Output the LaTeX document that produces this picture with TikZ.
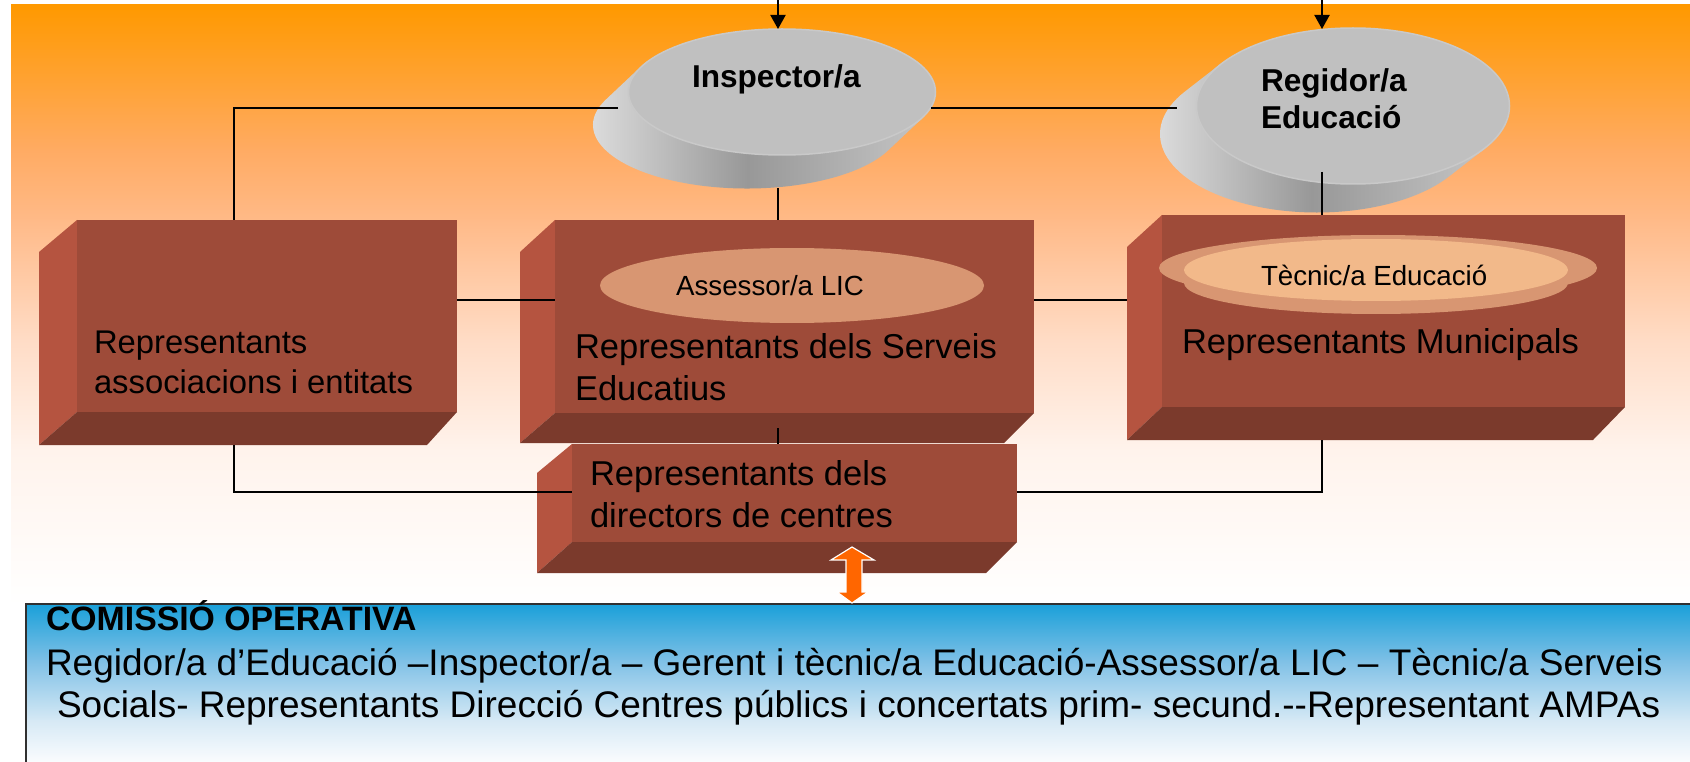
\documentclass[tikz,border=0pt]{standalone}
\usepackage{fontspec}
\setmainfont{Liberation Sans}
\usetikzlibrary{arrows.meta,calc,shapes.geometric}
\definecolor{or0}{HTML}{FF9900}
\definecolor{or1}{HTML}{FFAB63}
\definecolor{or2}{HTML}{FFBA88}
\definecolor{or3}{HTML}{FFDCC6}
\definecolor{or4}{HTML}{FFF3EC}
\definecolor{bl0}{HTML}{1AA0D9}
\definecolor{bl1}{HTML}{7EC0E6}
\definecolor{bl2}{HTML}{D6E9F5}
\definecolor{bl3}{HTML}{FAFCFE}
\definecolor{brickfront}{HTML}{9E4B39}
\definecolor{brickleft}{HTML}{B55440}
\definecolor{brickbottom}{HTML}{7B3A2C}
\definecolor{tanD}{HTML}{D89672}
\definecolor{tanL}{HTML}{F2B98A}
\definecolor{disctop}{HTML}{C0C0C0}
\definecolor{discrim}{HTML}{C9C9C9}
\definecolor{discL}{HTML}{E4E4E4}
\definecolor{discM}{HTML}{989898}
\definecolor{discR}{HTML}{C4C4C4}
\definecolor{arrowor}{HTML}{FF6600}
\definecolor{boxline}{HTML}{303030}
\newcommand\fsz[1]{\fontsize{#1}{#1}\selectfont}
\newcommand\mybrick[9]{%
  \fill[brickleft] (#2,-#6) -- (#3,-#5) -- (#3,-#7) -- (#2,-#8) -- cycle;
  \fill[brickbottom] (#2,-#8) -- (#3,-#7) -- (#4,-#7) -- (#9,-#8) -- cycle;
  \node[brickface, minimum width={#4-#3}, minimum height={#7-#5}, anchor=north west] (#1) at (#3,-#5) {};
}
\begin{document}
\begin{tikzpicture}[x=1pt,y=1pt,
  conn/.style={line width=2pt, black},
  arr/.style={conn, -{Triangle[width=15pt,length=14pt]}},
  txt/.style={inner sep=0pt, outer sep=0pt, anchor=base west, text=black},
  brickface/.style={fill=brickfront, inner sep=0pt, outer sep=0pt, draw=none},
  flatell/.style={ellipse, inner sep=0pt, outer sep=0pt, draw=none}]
\useasboundingbox (0,0) rectangle (1690,-762);
\fill[white] (0,0) rectangle (1690,-762);
% background gradient
\shade[top color=or0, bottom color=or1] (11,-5) rectangle (1690,-151);
\shade[top color=or1, bottom color=or2] (11,-150) rectangle (1690,-221);
\shade[top color=or2, bottom color=or3] (11,-220) rectangle (1690,-341);
\shade[top color=or3, bottom color=or4] (11,-340) rectangle (1690,-451);
\shade[top color=or4, bottom color=white] (11,-450) rectangle (1690,-606);

% ---- Inspector disc
\coordinate (inspC) at (782,-92);
\shade[left color=discL, right color=discR, middle color=discM]
  ($(inspC)+(-23.6:154 and 63.5)$) -- ++(-35,-33)
  arc[start angle=-23.6, end angle=-203.6, x radius=154, y radius=63.5]
  -- ++(35,33) -- cycle;
\node[flatell, fill=disctop, draw=discrim, line width=1.5pt,
  minimum width=307, minimum height=126] (insp) at (inspC) {};
\node[txt, font=\bfseries\fsz{31.6}] (insptxt) at (692,-88) {Inspector/a};

% ---- Regidor disc
\coordinate (regC) at (1353,-106);
\shade[left color=discL, right color=discR, middle color=discM]
  ($(regC)+(-32.7:157 and 78.5)$) -- ++(-36,-28)
  arc[start angle=-32.7, end angle=-212.7, x radius=157, y radius=78.5]
  -- ++(36,28) -- cycle;
\node[flatell, fill=disctop, draw=discrim, line width=1.5pt,
  minimum width=313, minimum height=156] (reg) at (regC) {};
\node[txt, font=\bfseries\fsz{31.6}] (regtxt1) at (1261,-92) {Regidor/a};
\node[txt, font=\bfseries\fsz{31.6}] (regtxt2) at (1261,-129) {Educació};

% ---- bricks
\mybrick{leftblk}{39}{77}{457}{220}{252}{412}{445}{427}
\mybrick{cenblk}{520}{555}{1034}{220}{252}{413}{443}{1004}
\mybrick{munblk}{1127}{1162}{1625}{215}{247}{407}{440}{1593}
\mybrick{dirblk}{537}{572}{1017}{444}{473}{542}{573}{986}

% inner ellipses
\node[flatell, fill=tanD, minimum width=384, minimum height=75] (assessor) at (792,-285.5) {};
\node[txt, font=\fsz{27.7}, anchor=base] (assessortxt) at (770,-295) {Assessor/a LIC};
\node[flatell, fill=tanD, minimum width=438, minimum height=66] (tecring) at (1378,-268) {};
\node[flatell, fill=tanD, minimum width=384, minimum height=62] (tecside) at (1376,-283) {};
\node[flatell, fill=tanL, minimum width=384, minimum height=62] (tecnic) at (1376,-270) {};
\node[txt, font=\fsz{27.7}] (tecnictxt) at (1261,-285) {Tècnic/a Educació};

% brick texts
\node[txt, font=\fsz{32.8}] (lefttxt1) at (94,-353) {Representants};
\node[txt, font=\fsz{32.8}] (lefttxt2) at (94,-393) {associacions i entitats};
\node[txt, font=\fsz{34.5}] (centxt1) at (575,-358) {Representants dels Serveis};
\node[txt, font=\fsz{34.5}] (centxt2) at (575,-400) {Educatius};
\node[txt, font=\fsz{34.5}] (muntxt) at (1182,-353) {Representants Municipals};
\node[txt, font=\fsz{34.5}] (dirtxt1) at (590,-485) {Representants dels};
\node[txt, font=\fsz{34.5}] (dirtxt2) at (590,-527) {directors de centres};

% ---- connectors
\coordinate (inspIn) at (778,0);
\coordinate (inspTop) at (778,-29);
\coordinate (regIn) at (1322,0);
\coordinate (regTop) at (1322,-29);
\coordinate (inspL) at (618,-108);
\coordinate (cornerL) at (234,-108);
\coordinate (leftTop) at (234,-220);
\coordinate (inspR) at (931,-108);
\coordinate (regL) at (1177,-108);
\coordinate (inspB) at (778,-188);
\coordinate (cenTop) at (778,-220);
\coordinate (regB) at (1322,-172);
\coordinate (munTop) at (1322,-215);
\coordinate (leftR) at (457,-300);
\coordinate (cenL) at (555,-300);
\coordinate (cenR) at (1034,-300);
\coordinate (munL) at (1127,-300);
\coordinate (leftBot) at (234,-445);
\coordinate (cornerBL) at (234,-492);
\coordinate (dirL) at (572,-492);
\coordinate (dirR) at (1017,-492);
\coordinate (cornerBR) at (1322,-492);
\coordinate (munBot) at (1322,-440);
\coordinate (cenBot) at (778,-428);
\coordinate (dirTop) at (778,-444);

\draw[arr] (inspIn) -- (inspTop);
\draw[arr] (regIn) -- (regTop);
\draw[conn] (inspL) -- (cornerL) -- (leftTop);
\draw[conn] (inspR) -- (regL);
\draw[conn] (inspB) -- (cenTop);
\draw[conn] (regB) -- (munTop);
\draw[conn] (leftR) -- (cenL);
\draw[conn] (cenR) -- (munL);
\draw[conn] (leftBot) -- (cornerBL) -- (dirL);
\draw[conn] (dirR) -- (cornerBR) -- (munBot);
\draw[conn] (cenBot) -- (dirTop);

% ---- bottom box
\shade[top color=bl0, bottom color=bl1] (26,-604) rectangle (1690,-661);
\shade[top color=bl1, bottom color=bl2] (26,-660) rectangle (1690,-721);
\shade[top color=bl2, bottom color=bl3] (26,-720) rectangle (1690,-762);
\node[inner sep=0pt, outer sep=0pt, anchor=north west, minimum width=1664, minimum height=158] (comissio) at (26,-604) {};
\draw[line width=2pt, boxline] (comissio.south west) -- (comissio.north west) -- (comissio.north east);

% double arrow between directors block and commission box
\coordinate (dblTop) at (852,-547);
\fill[arrowor, draw=white, line width=1.2pt, line join=miter]
  (dblTop) -- ++(22,-13) -- ++(-12,0) -- ++(0,-32) -- ++(6,0)
  -- ++(-16,-11) -- ++(-15,11) -- ++(9,0) -- ++(0,32) -- ++(-15,0) -- cycle;

\node[txt, font=\bfseries\fsz{33.8}] (ctitle) at (46,-630) {COMISSIÓ OPERATIVA};
\node[txt, font=\fsz{37}] (cline1) at (46,-675) {Regidor/a d’Educació –Inspector/a – Gerent i tècnic/a Educació-Assessor/a LIC – Tècnic/a Serveis};
\node[txt, font=\fsz{37}] (cline2) at (57,-717) {Socials- Representants Direcció Centres públics i concertats prim- secund.-\kern0pt-Representant AMPAs};
\end{tikzpicture}
\end{document}
